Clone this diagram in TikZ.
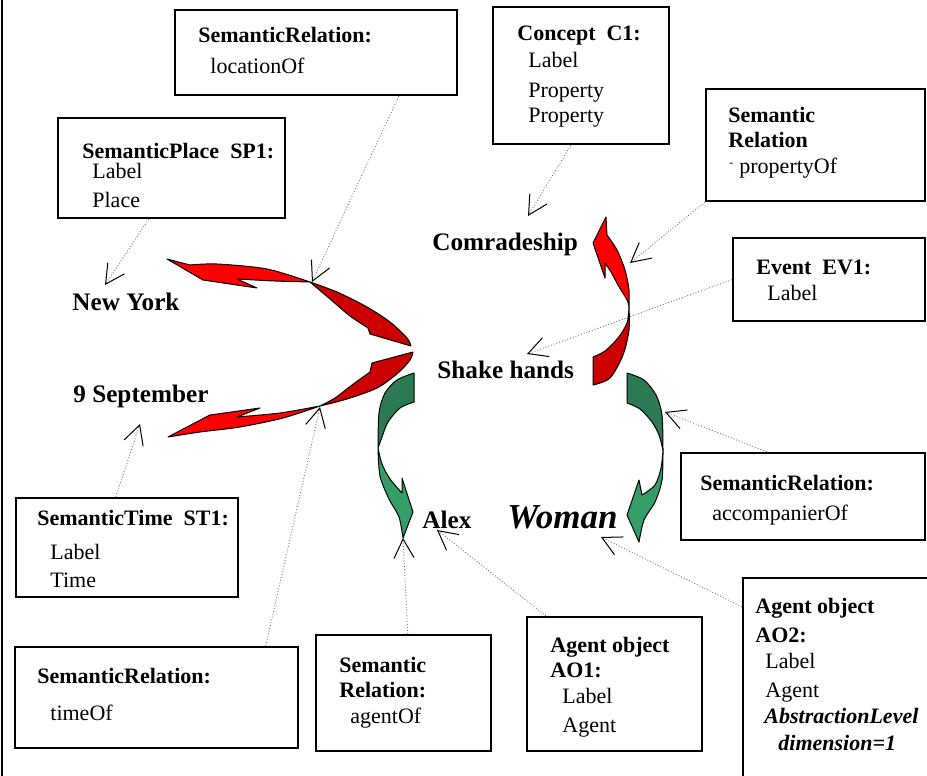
\documentclass[tikz,border=0pt]{standalone}
\usepackage{fontspec}
\setmainfont{Liberation Serif}
\usetikzlibrary{arrows.meta,fit,calc}
\definecolor{redfront}{RGB}{255,0,0}
\definecolor{redback}{RGB}{204,0,0}
\definecolor{greenback}{RGB}{44,122,83}
\definecolor{greenfront}{RGB}{52,158,102}

\begin{document}
\begin{tikzpicture}[x=0.5pt,y=-0.5pt,
  box/.style={draw, line width=1.25pt, inner sep=0pt, fill=white},
  txt/.style={anchor=base west, inner sep=0pt, font=\fontsize{11}{13}\selectfont},
  btxt/.style={txt, font=\fontsize{11}{13}\selectfont\bfseries},
  bitxt/.style={txt, font=\fontsize{11}{13}\selectfont\bfseries\itshape},
  lbl/.style={anchor=base west, inner sep=0pt, font=\fontsize{12.6}{15}\selectfont\bfseries},
  conn/.style={densely dotted, black!55, line width=0.45pt,
    -{Straight Barb[length=9.5pt,width=10pt,line width=0.5pt,color=black]}},
  band/.style={draw=black, line width=0.5pt, line join=round}
]
\useasboundingbox (0,0) rectangle (927,776);
\clip (0,0) rectangle (927,776);

% left frame rule
\draw[line width=1pt] (2,0) -- (2,776);

% ---- twisted block arrows ----
% to "New York"
\filldraw[band, fill=redback] plot[smooth] coordinates {(310,282) (337,292) (367,307) (390,322) (407,338) (411,346)}
  -- (370,334) -- (368,328)
  -- plot[smooth] coordinates {(368,328) (350,316) (330,299) (310,282)} -- cycle;
\filldraw[band, fill=redfront] plot[smooth] coordinates {(310,282) (267,269) (217,264) (190,265)}
  -- (167,259) -- (203,280) -- (257,288) -- (237,279)
  -- plot[smooth] coordinates {(237,279) (275,281) (310,282)} -- cycle;
% to "9 September"
\filldraw[band, fill=redback] plot[smooth] coordinates {(320,406) (347,399) (377,388) (398,373) (410,360) (413,352)}
  -- (372,363) -- (370,372)
  -- plot[smooth] coordinates {(370,372) (352,385) (335,398) (320,406)} -- cycle;
\filldraw[band, fill=redfront] plot[smooth] coordinates {(320,406) (283,418) (240,427) (200,432) (168,437)}
  -- (210,415) -- (260,408) -- (237,417)
  -- plot[smooth] coordinates {(237,417) (280,413) (320,406)} -- cycle;
% to "Comradeship"
\filldraw[band, fill=redback] plot[smooth] coordinates {(629,307) (629,330) (623,355) (610,378) (593,385)}
  -- (593,357)
  -- plot[smooth] coordinates {(593,357) (605,351) (618,338) (627,323) (629,307)} -- cycle;
\filldraw[band, fill=redfront] plot[smooth] coordinates {(629,307) (629,290) (625,270) (617,250) (607,235)}
  -- (606,217) -- (593,243) -- (605,278) -- (605,263)
  -- plot[smooth] coordinates {(605,263) (611,272) (618,285) (627,300) (629,307)} -- cycle;
% to "Alex"
\filldraw[band, fill=greenback] plot[smooth] coordinates {(414,373) (397,380) (385,393) (379,413) (378,448)}
  -- plot[smooth] coordinates {(378,448) (382,437) (388,422) (400,408) (414,402)} -- cycle;
\filldraw[band, fill=greenfront] plot[smooth] coordinates {(378,448) (380,476) (389,499) (399,517) (403,538)}
  -- (413,512) -- (402,478) -- (402,493)
  -- plot[smooth] coordinates {(402,493) (390,479) (382,464) (378,448)} -- cycle;
% to "Woman"
\filldraw[band, fill=greenback] plot[smooth] coordinates {(627,373) (644,380) (656,395) (662,415) (663,450)}
  -- plot[smooth] coordinates {(663,450) (659,435) (652,422) (640,409) (627,403)} -- cycle;
\filldraw[band, fill=greenfront] plot[smooth] coordinates {(663,450) (662,480) (655,502) (644,520) (639,542)}
  -- (627,515) -- (639,480) -- (642,495)
  -- plot[smooth] coordinates {(642,495) (655,485) (661,468) (663,450)} -- cycle;

% ---- concept labels ----
\node[lbl] (comr) at (432,250) {Comradeship};
\node[lbl] (shake) at (437,378) {Shake hands};
\node[lbl] (ny) at (72,310) {New York};
\node[lbl] (sept) at (73,402) {9 September};
\node[lbl] (alex) at (422,528) {Alex};
\node[lbl, font=\fontsize{17.5}{20}\selectfont\bfseries\itshape] (woman) at (507,528) {Woman};

% ---- boxes ----
\node[box, fit={(175,10) (457,95)}] (b1) {};
\node[box, fit={(58,118) (285,218)}] (b2) {};
\node[box, fit={(493,7) (669,144)}] (b3) {};
\node[box, fit={(706,89) (925,201)}] (b4) {};
\node[box, fit={(733,238) (925,321)}] (b5) {};
\node[box, fit={(681,453) (925,540)}] (b6) {};
\node[box, fit={(16,498) (238,597)}] (b7) {};
\node[box, fit={(15,647) (298,748)}] (b8) {};
\node[box, fit={(316,635) (491,751)}] (b9) {};
\node[box, fit={(527,617) (702,751)}] (b10) {};
\node[box, fit={(743,578) (940,790)}] (b11) {};

% box contents
\node[btxt] (b1t) at (198,42) {SemanticRelation:};
\node[txt] (b1a) at (210,73) {locationOf};

\node[btxt] (b2t) at (82,158) {SemanticPlace\ \ SP1:};
\node[txt] (b2a) at (92,178) {Label};
\node[txt] (b2b) at (92,207) {Place};

\node[btxt] (b3t) at (517,40) {Concept\ \ C1:};
\node[txt] (b3a) at (528,68) {Label};
\node[txt] (b3b) at (528,97) {Property};
\node[txt] (b3c) at (528,122) {Property};

\node[btxt] (b4t) at (728,122) {Semantic};
\node[btxt] (b4u) at (728,147) {Relation};
\node[txt, font=\fontsize{6}{6}\selectfont] (b4d) at (729,166) {-};
\node[txt] (b4a) at (739,173) {propertyOf};

\node[btxt] (b5t) at (756,274) {Event\ \ EV1:};
\node[txt] (b5a) at (767,300) {Label};

\node[btxt] (b6t) at (700,490) {SemanticRelation:};
\node[txt] (b6a) at (712,520) {accompanierOf};

\node[btxt] (b7t) at (37,525) {SemanticTime\ \ ST1:};
\node[txt] (b7a) at (50,559) {Label};
\node[txt] (b7b) at (50,587) {Time};

\node[btxt] (b8t) at (37,683) {SemanticRelation:};
\node[txt] (b8a) at (50,720) {timeOf};

\node[btxt] (b9t) at (339,672) {Semantic};
\node[btxt] (b9u) at (339,697) {Relation:};
\node[txt] (b9a) at (350,723) {agentOf};

\node[btxt] (b10t) at (550,652) {Agent object};
\node[btxt] (b10u) at (550,677) {AO1:};
\node[txt] (b10a) at (562,703) {Label};
\node[txt] (b10b) at (562,732) {Agent};

\node[btxt] (b11t) at (755,613) {Agent object};
\node[btxt] (b11u) at (755,642) {AO2:};
\node[txt] (b11a) at (765,668) {Label};
\node[txt] (b11b) at (765,697) {Agent};
\node[bitxt] (b11c) at (764,723) {AbstractionLevel};
\node[bitxt] (b11d) at (778,750) {dimension=1};

% ---- connector end points ----
\coordinate (tLoc) at (312,282);
\coordinate (tPlace) at (105,285);
\coordinate (tConc) at (528,216);
\coordinate (tProp) at (630,263);
\coordinate (tEvent) at (527,354);
\coordinate (tAcc) at (665,412);
\coordinate (tWoman) at (601,537);
\coordinate (tAlex) at (437,530);
\coordinate (tAgent) at (403,538);
\coordinate (tTimeOf) at (320,407);
\coordinate (tTime) at (140,424);

% ---- dotted connectors ----
\draw[conn] ($(b1.south west)+(225,0)$) -- (tLoc);
\draw[conn] ($(b2.south west)+(92,0)$) -- (tPlace);
\draw[conn] ($(b3.south west)+(79,0)$) -- (tConc);
\draw[conn] (b4.south west) -- (tProp);
\draw[conn] ($(b5.north west)+(0,43)$) -- (tEvent);
\draw[conn] ($(b6.north west)+(87,0)$) -- (tAcc);
\draw[conn] ($(b11.north west)+(0,30)$) -- (tWoman);
\draw[conn] ($(b10.north west)+(20,0)$) -- (tAlex);
\draw[conn] ($(b9.north west)+(93,0)$) -- (tAgent);
\draw[conn] ($(b8.north west)+(252,0)$) -- (tTimeOf);
\draw[conn] ($(b7.north west)+(101,0)$) -- (tTime);
\end{tikzpicture}
\end{document}
